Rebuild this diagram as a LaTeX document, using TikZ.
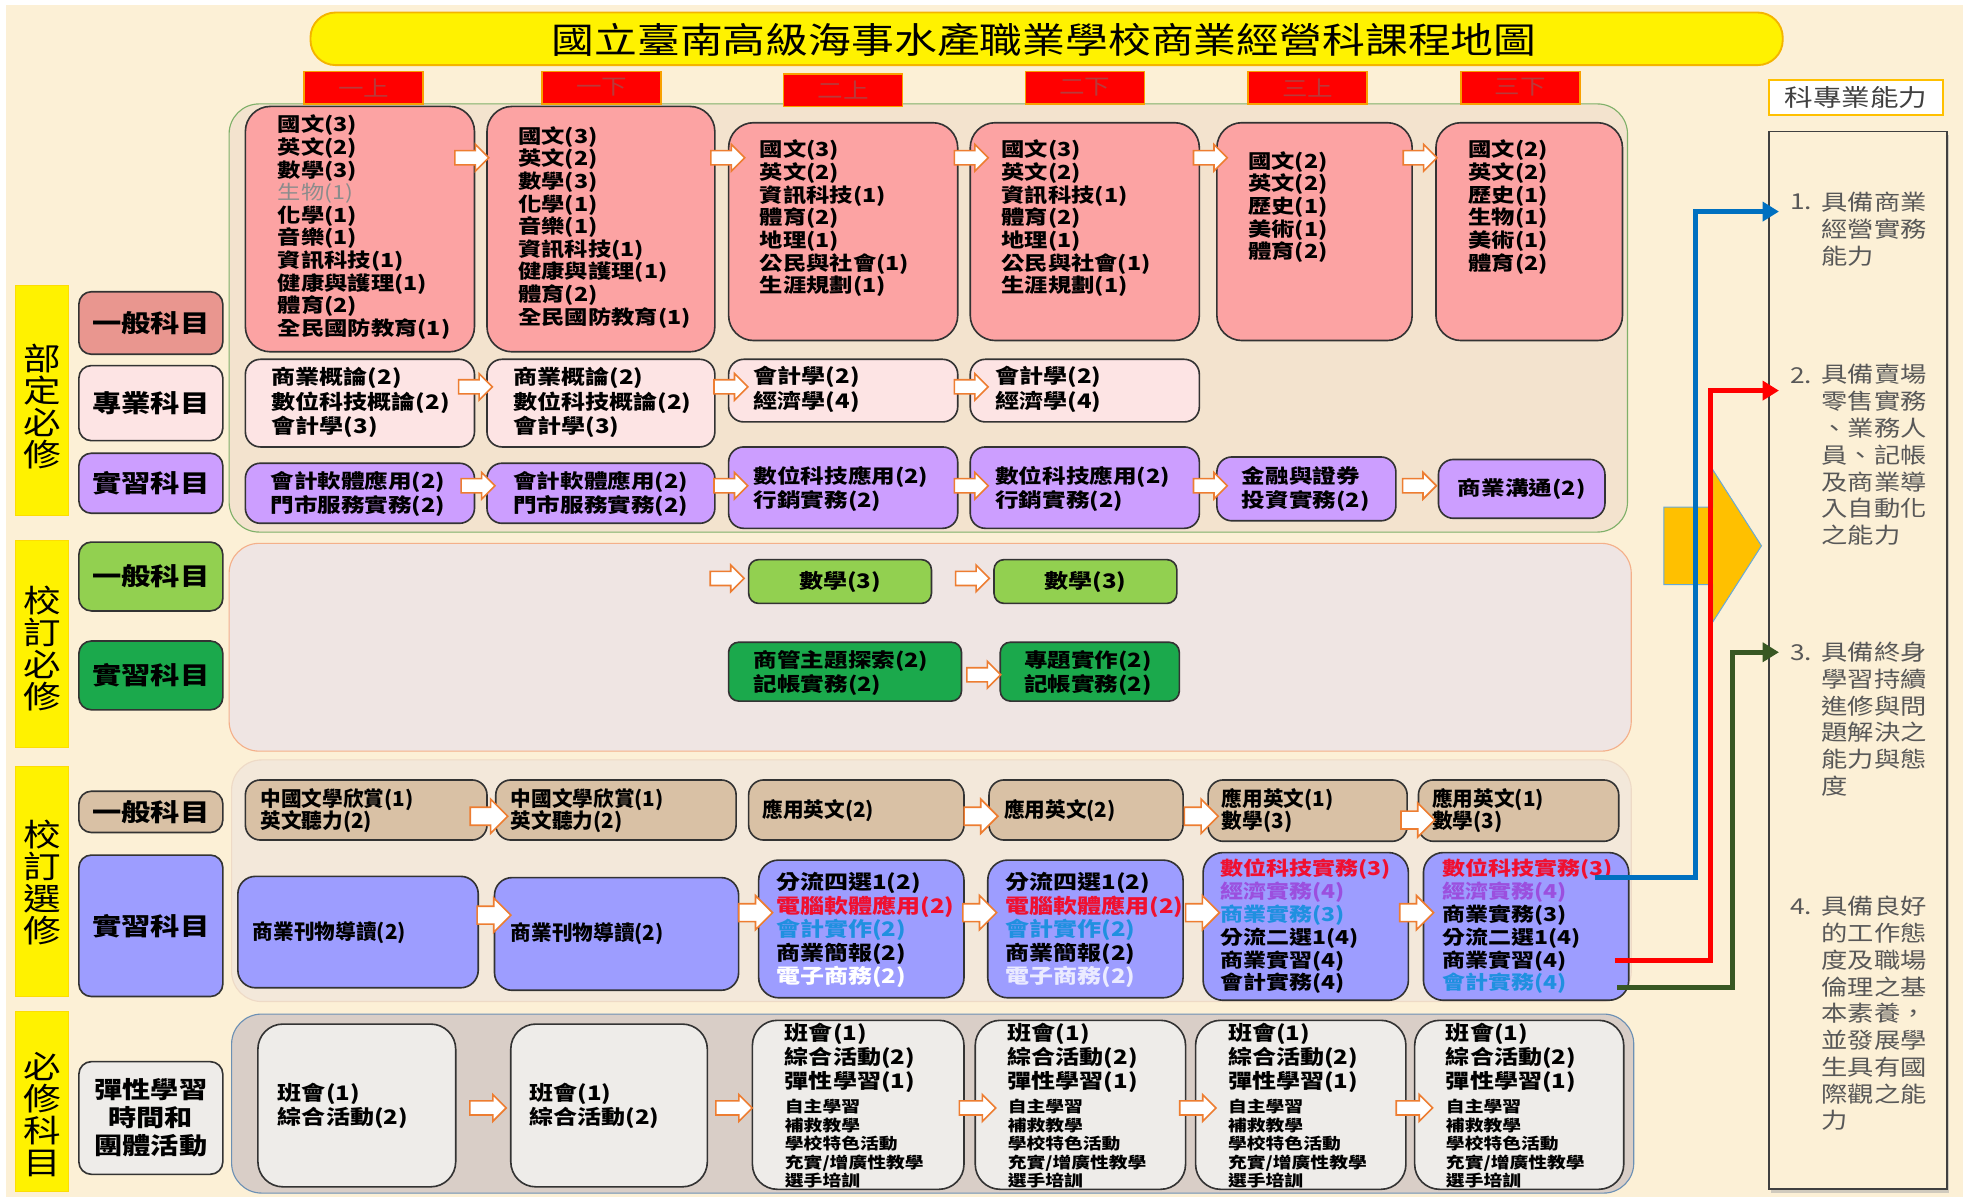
\documentclass[tikz,border=0pt]{standalone}
\usepackage{fontspec}
\setmainfont{Noto Sans CJK TC}[FakeStretch=1.2]
\newfontfamily\narrowfont{Noto Sans CJK TC}
\usepackage{tikz}
\tikzset{
  every node/.style = {
    inner sep = 0pt,
    outer sep = 0pt
  }
}
\usetikzlibrary{
arrows.meta,
fit,
shadows,
shapes.arrows
}
\definecolor{bgcream}{HTML}{FCF0D6}
\definecolor{titlegold}{HTML}{F4B400}
\definecolor{tabred}{HTML}{FF0000}
\definecolor{tabedge}{HTML}{F8A000}
\definecolor{tabtext}{HTML}{B83A3A}
\definecolor{panelA}{HTML}{F3E3CE}
\definecolor{panelAedge}{HTML}{7FB069}
\definecolor{panelB}{HTML}{EFE5E3}
\definecolor{panelBedge}{HTML}{F4B08A}
\definecolor{panelC}{HTML}{F3E8DA}
\definecolor{panelCedge}{HTML}{EEDAC6}
\definecolor{panelD}{HTML}{D9CEC7}
\definecolor{panelDedge}{HTML}{6C90B4}
\definecolor{genpink}{HTML}{FCA3A3}
\definecolor{genpinkcat}{HTML}{E9968F}
\definecolor{propink}{HTML}{FDE4E4}
\definecolor{pracviolet}{HTML}{CC9EFF}
\definecolor{lightgreen}{HTML}{92D050}
\definecolor{darkgreen}{HTML}{1BA94C}
\definecolor{cardtan}{HTML}{D9C1A5}
\definecolor{peri}{HTML}{9D9DFF}
\definecolor{paleg}{HTML}{EEECE9}
\definecolor{arrowedge}{HTML}{ED7D31}
\definecolor{gold}{HTML}{FFC000}
\definecolor{linkblue}{HTML}{0070C0}
\definecolor{linkgreen}{HTML}{385723}
\definecolor{txtred}{HTML}{F01030}
\definecolor{txtpurple}{HTML}{9B4FDE}
\definecolor{txtblue}{HTML}{2090E0}
\definecolor{abilgray}{HTML}{585858}

\begin{document}
\begin{tikzpicture}[
        x = 1pt,
        y = -1pt,
        panel/.style={
          rounded corners = 24pt,
          line width = 0.9pt,
        },
        card/.style={
          draw = black!80,
          line width = 1.3pt,
          rounded corners = 12pt,
        },
        bigcard/.style={
          card,
          rounded corners = 20pt,
          fill = genpink,
        },
        catbox/.style={
          card,
          rounded corners = 10pt,
          minimum width = 115pt,
          align = center,
          font = \bfseries\fontsize{19.5}{22.5}\selectfont,
        },
        sidebox/.style={
          fill = yellow,
          draw = yellow!80!orange,
          line width = 0.6pt,
        },
        sidetxt/.style={
          align = center,
          font = \fontsize{25}{25.5}\selectfont,
        },
        tab/.style={
          fill = tabred,
          draw = tabedge,
          line width = 1.2pt,
          minimum width = 95pt,
          minimum height = 26pt,
          text = tabtext,
          font = \fontsize{17}{18}\selectfont,
        },
        blk/.style={
          single arrow,
          draw = arrowedge,
          fill = white,
          line width = 1.3pt,
          inner xsep = 0pt,
          inner ysep = 5pt,
          minimum height = 27pt,
          single arrow head extend = 5pt,
        },
        bigblk/.style={
          blk,
          inner ysep = 6.5pt,
          single arrow head extend = 6.5pt,
        },
        ta/.style={anchor = west, align = left, font = \bfseries\fontsize{15.5}{18.1}\selectfont},
        tb/.style={anchor = west, align = left, font = \bfseries\fontsize{16}{19.5}\selectfont},
        tc/.style={anchor = west, align = left, font = \bfseries\fontsize{15.7}{19}\selectfont},
        tn/.style={anchor = west, align = left, font = \narrowfont\bfseries\fontsize{16.5}{18}\selectfont},
        tg/.style={anchor = west, align = left, font = \bfseries\fontsize{16}{18.8}\selectfont},
        th/.style={anchor = west, align = left, font = \bfseries\fontsize{15.3}{18.2}\selectfont},
        ts/.style={anchor = west, align = left, font = \bfseries\fontsize{12.5}{14.75}\selectfont},
        abil/.style={anchor = west, align = left, text = abilgray, font = \fontsize{17.5}{21.4}\selectfont},
        link/.style={line width = 4pt, -{Triangle[length=13pt, width=15pt]}},
        ]
        \useasboundingbox (0,0) rectangle (1568,956);
        \fill[white] (0,0) rectangle (1568,956);
        \fill[bgcream] (5,4) rectangle (1568,956);

        % title and semesters
        \node[fit={(248,10) (1424,52)}, fill=yellow, draw=titlegold, line width=1.5pt, rounded corners=20pt] (title) {};
        \node[font=\fontsize{28.5}{30}\selectfont] (titlet) at (834,32) {國立臺南高級海事水產職業學校商業經營科課程地圖};

        % group panels
        \node[fit={(183,83) (1300,425)}, panel, fill=panelA, draw=panelAedge] (bd) {};
        \node[fit={(183,434) (1303,600)}, panel, fill=panelB, draw=panelBedge] (xb) {};
        \node[fit={(185,607) (1303,800)}, panel, fill=panelC, draw=panelCedge] (xx) {};
        \node[fit={(185,810) (1305,953)}, panel, fill=panelD, draw=panelDedge] (bx) {};

        \node[tab] (s1) at (290.5,70) {一上};
        \node[tab] (s2) at (480.5,70) {一下};
        \node[tab] (s3) at (673.5,72) {二上};
        \node[tab] (s4) at (866.5,70) {二下};
        \node[tab] (s5) at (1044.5,70) {三上};
        \node[tab] (s6) at (1214.5,70) {三下};

        % left labels
        \node[fit={(12,228) (55,412)}, sidebox] (sl1) {};
        \node[sidetxt] (sl1t) at (33.5,325) {部\\定\\必\\修};
        \node[fit={(12,432) (55,597)}, sidebox] (sl2) {};
        \node[sidetxt] (sl2t) at (33.5,518) {校\\訂\\必\\修};
        \node[fit={(12,612) (55,796)}, sidebox] (sl3) {};
        \node[sidetxt] (sl3t) at (33.5,705) {校\\訂\\選\\修};
        \node[fit={(12,808) (55,952)}, sidebox] (sl4) {};
        \node[sidetxt] (sl4t) at (33.5,890) {必\\修\\科\\目};

        \node[catbox, fill=genpinkcat, minimum height=50pt] (k1) at (120.5,258) {一般科目};
        \node[catbox, fill=propink, minimum height=60pt] (k2) at (120.5,322) {專業科目};
        \node[catbox, fill=pracviolet, minimum height=48pt] (k3) at (120.5,386) {實習科目};
        \node[catbox, fill=lightgreen, minimum height=55pt] (k4) at (120.5,460.5) {一般科目};
        \node[catbox, fill=darkgreen, minimum height=55pt] (k5) at (120.5,539.5) {實習科目};
        \node[catbox, fill=cardtan, minimum height=33pt] (k6) at (120.5,648.5) {一般科目};
        \node[catbox, fill=peri, minimum height=113pt] (k7) at (120.5,739.5) {實習科目};
        \node[catbox, fill=paleg, minimum height=90pt, font=\bfseries\fontsize{18.75}{22.5}\selectfont] (k8) at (120.5,893) {彈性學習\\時間和\\團體活動};

        % 部定必修
        \node[fit={(196,85) (379,281)}, bigcard] (p1) {};
        \node[fit={(389,85) (571,281)}, bigcard] (p2) {};
        \node[fit={(582,98) (765,272)}, bigcard] (p3) {};
        \node[fit={(775,98) (958,272)}, bigcard] (p4) {};
        \node[fit={(972,98) (1128,272)}, bigcard] (p5) {};
        \node[fit={(1147,98) (1296,272)}, bigcard] (p6) {};
        \node[ta] (p1t) at (222,181.5) {國文(3)\\英文(2)\\數學(3)\\\textcolor{black!45}{\mdseries 生物(1)}\\化學(1)\\音樂(1)\\資訊科技(1)\\健康與護理(1)\\體育(2)\\全民國防教育(1)};
        \node[ta] (p2t) at (414,181.5) {國文(3)\\英文(2)\\數學(3)\\化學(1)\\音樂(1)\\資訊科技(1)\\健康與護理(1)\\體育(2)\\全民國防教育(1)};
        \node[ta] (p3t) at (607,174.5) {國文(3)\\英文(2)\\資訊科技(1)\\體育(2)\\地理(1)\\公民與社會(1)\\生涯規劃(1)};
        \node[ta] (p4t) at (800,174.5) {國文(3)\\英文(2)\\資訊科技(1)\\體育(2)\\地理(1)\\公民與社會(1)\\生涯規劃(1)};
        \node[ta] (p5t) at (997,165.5) {國文(2)\\英文(2)\\歷史(1)\\美術(1)\\體育(2)};
        \node[ta] (p6t) at (1173,165.5) {國文(2)\\英文(2)\\歷史(1)\\生物(1)\\美術(1)\\體育(2)};

        \node[fit={(196,287) (379,357)}, card, fill=propink] (q1) {};
        \node[fit={(389,287) (571,357)}, card, fill=propink] (q2) {};
        \node[fit={(582,287) (765,337)}, card, fill=propink] (q3) {};
        \node[fit={(775,287) (958,337)}, card, fill=propink] (q4) {};
        \node[tb] (q1t) at (217,321.5) {商業概論(2)\\數位科技概論(2)\\會計學(3)};
        \node[tb] (q2t) at (410,321.5) {商業概論(2)\\數位科技概論(2)\\會計學(3)};
        \node[tb] (q3t) at (602,311) {會計學(2)\\經濟學(4)};
        \node[tb] (q4t) at (795,311) {會計學(2)\\經濟學(4)};

        \node[fit={(196,370) (379,418)}, card, fill=pracviolet] (r1) {};
        \node[fit={(389,370) (571,418)}, card, fill=pracviolet] (r2) {};
        \node[fit={(582,357) (765,422)}, card, fill=pracviolet] (r3) {};
        \node[fit={(775,357) (958,422)}, card, fill=pracviolet] (r4) {};
        \node[fit={(972,365) (1115,416)}, card, fill=pracviolet] (r5) {};
        \node[fit={(1149,367) (1282,414)}, card, fill=pracviolet] (r6) {};
        \node[tc] (r1t) at (216,394.5) {會計軟體應用(2)\\門市服務實務(2)};
        \node[tc] (r2t) at (410,394.5) {會計軟體應用(2)\\門市服務實務(2)};
        \node[tc] (r3t) at (602,390.5) {數位科技應用(2)\\行銷實務(2)};
        \node[tc] (r4t) at (795,390.5) {數位科技應用(2)\\行銷實務(2)};
        \node[tc] (r5t) at (992,390.5) {金融與證券\\投資實務(2)};
        \node[tc, anchor=center] (r6t) at (r6.center) {商業溝通(2)};

        \node[blk] (pa1) at (374,126) {};
        \node[blk] (pa2) at (578.5,126) {};
        \node[blk] (pa3) at (773,126) {};
        \node[blk] (pa4) at (964,126) {};
        \node[blk] (pa5) at (1131.5,126) {};
        \node[blk] (qa1) at (377,309) {};
        \node[blk] (qa2) at (581,309) {};
        \node[blk] (qa3) at (773,309) {};
        \node[blk] (ra1) at (379,388) {};
        \node[blk] (ra2) at (581,388) {};
        \node[blk] (ra3) at (773,388) {};
        \node[blk] (ra4) at (964,388) {};
        \node[blk] (ra5) at (1131,388) {};

        % 校訂必修
        \node[fit={(598,447) (744,482)}, card, fill=lightgreen, rounded corners=8pt] (d1) {};
        \node[fit={(794,447) (940,482)}, card, fill=lightgreen, rounded corners=8pt] (d2) {};
        \node[tb, anchor=center] (d1t) at (d1.center) {數學(3)};
        \node[tb, anchor=center] (d2t) at (d2.center) {數學(3)};
        \node[fit={(582,513) (768,560)}, card, fill=darkgreen, rounded corners=8pt] (e1) {};
        \node[fit={(799,513) (942,560)}, card, fill=darkgreen, rounded corners=8pt] (e2) {};
        \node[tc] (e1t) at (602,537.5) {商管主題探索(2)\\記帳實務(2)};
        \node[tc] (e2t) at (818,537.5) {專題實作(2)\\記帳實務(2)};
        \node[blk] (da1) at (578,462) {};
        \node[blk] (da2) at (774,462) {};
        \node[blk] (ea1) at (783,539) {};

        % 校訂選修
        \node[fit={(196,623) (389,671)}, card, fill=cardtan] (f1) {};
        \node[fit={(396,623) (588,671)}, card, fill=cardtan] (f2) {};
        \node[fit={(598,623) (770,671)}, card, fill=cardtan] (f3) {};
        \node[fit={(790,623) (945,671)}, card, fill=cardtan] (f4) {};
        \node[fit={(965,623) (1124,672)}, card, fill=cardtan] (f5) {};
        \node[fit={(1133,623) (1293,672)}, card, fill=cardtan] (f6) {};
        \node[tn] (f1t) at (208,647.5) {中國文學欣賞(1)\\英文聽力(2)};
        \node[tn] (f2t) at (408,647.5) {中國文學欣賞(1)\\英文聽力(2)};
        \node[tn] (f3t) at (609,647.5) {應用英文(2)};
        \node[tn] (f4t) at (802,647.5) {應用英文(2)};
        \node[tn] (f5t) at (976,647.5) {應用英文(1)\\數學(3)};
        \node[tn] (f6t) at (1144,647.5) {應用英文(1)\\數學(3)};
        \node[bigblk, minimum height=30pt] (fa1) at (387,652) {};
        \node[bigblk] (fa2) at (780,652) {};
        \node[bigblk] (fa3) at (956,652) {};
        \node[bigblk] (fa4) at (1129,655) {};

        \node[fit={(190,700) (382,789)}, card, fill=peri, rounded corners=14pt] (g1) {};
        \node[fit={(395,701) (590,791)}, card, fill=peri, rounded corners=14pt] (g2) {};
        \node[fit={(606,687) (770,797)}, card, fill=peri, rounded corners=16pt] (g3) {};
        \node[fit={(789,687) (945,797)}, card, fill=peri, rounded corners=16pt] (g4) {};
        \node[fit={(961,681) (1125,799)}, card, fill=peri, rounded corners=16pt] (g5) {};
        \node[fit={(1137,681) (1301,799)}, card, fill=peri, rounded corners=16pt] (g6) {};
        \node[tn] (g1t) at (202,745) {商業刊物導讀(2)};
        \node[tn] (g2t) at (408,746) {商業刊物導讀(2)};
        \node[tg] (g3t) at (620,743) {分流四選1(2)\\\textcolor{txtred}{電腦軟體應用(2)}\\\textcolor{txtblue}{會計實作(2)}\\商業簡報(2)\\\textcolor{white}{電子商務(2)}};
        \node[tg] (g4t) at (803,743) {分流四選1(2)\\\textcolor{txtred}{電腦軟體應用(2)}\\\textcolor{txtblue}{會計實作(2)}\\商業簡報(2)\\\textcolor{white!80!peri}{電子商務(2)}};
        \node[th] (g5t) at (975,740) {\textcolor{txtred}{數位科技實務(3)}\\\textcolor{txtpurple}{經濟實務(4)}\\\textcolor{txtblue}{商業實務(3)}\\分流二選1(4)\\商業實習(4)\\會計實務(4)};
        \node[th] (g6t) at (1152,740) {\textcolor{txtred}{數位科技實務(3)}\\\textcolor{txtpurple}{經濟實務(4)}\\商業實務(3)\\分流二選1(4)\\商業實習(4)\\\textcolor{txtblue}{會計實務(4)}};
        \node[bigblk] (ga1) at (391,731) {};
        \node[bigblk] (ga2) at (600,729) {};
        \node[bigblk] (ga3) at (779,729) {};
        \node[bigblk] (ga4) at (957,729) {};
        \node[bigblk] (ga5) at (1128,729) {};

        % 必修科目
        \node[fit={(206,818) (364,948)}, card, fill=paleg, rounded corners=20pt] (h1) {};
        \node[fit={(408,818) (565,948)}, card, fill=paleg, rounded corners=20pt] (h2) {};
        \node[fit={(601,815) (770,950)}, card, fill=paleg, rounded corners=20pt] (h3) {};
        \node[fit={(779,815) (947,950)}, card, fill=paleg, rounded corners=20pt] (h4) {};
        \node[fit={(955,815) (1123,950)}, card, fill=paleg, rounded corners=20pt] (h5) {};
        \node[fit={(1130,815) (1297,950)}, card, fill=paleg, rounded corners=20pt] (h6) {};
        \node[tb] (h1t) at (222,883.5) {班會(1)\\綜合活動(2)};
        \node[tb] (h2t) at (423,883.5) {班會(1)\\綜合活動(2)};
        \node[tb, font=\bfseries\fontsize{16}{19}\selectfont] (h3t) at (627,845) {班會(1)\\綜合活動(2)\\彈性學習(1)};
        \node[ts] (h3s) at (627,913.5) {自主學習\\補救教學\\學校特色活動\\充實/增廣性教學\\選手培訓};
        \node[tb, font=\bfseries\fontsize{16}{19}\selectfont] (h4t) at (805,845) {班會(1)\\綜合活動(2)\\彈性學習(1)};
        \node[ts] (h4s) at (805,913.5) {自主學習\\補救教學\\學校特色活動\\充實/增廣性教學\\選手培訓};
        \node[tb, font=\bfseries\fontsize{16}{19}\selectfont] (h5t) at (981,845) {班會(1)\\綜合活動(2)\\彈性學習(1)};
        \node[ts] (h5s) at (981,913.5) {自主學習\\補救教學\\學校特色活動\\充實/增廣性教學\\選手培訓};
        \node[tb, font=\bfseries\fontsize{16}{19}\selectfont] (h6t) at (1155,845) {班會(1)\\綜合活動(2)\\彈性學習(1)};
        \node[ts] (h6s) at (1155,913.5) {自主學習\\補救教學\\學校特色活動\\充實/增廣性教學\\選手培訓};
        \node[blk, minimum height=29pt] (ha1) at (387,885) {};
        \node[blk, minimum height=29pt] (ha2) at (583.5,885) {};
        \node[blk, minimum height=29pt] (ha3) at (778,885) {};
        \node[blk, minimum height=29pt] (ha4) at (954,885) {};
        \node[blk, minimum height=29pt] (ha5) at (1127,885) {};

        % abilities
        \node[fit={(1413,64) (1552,92)}, fill=white, draw=gold, line width=2pt] (hdr) {};
        \node[font=\fontsize{19}{20}\selectfont, text=black!75] (hdrt) at (hdr.center) {科專業能力};
        \node[fit={(1413,105) (1555,950)}, fill=bgcream, draw=black!75, line width=1.4pt,
          drop shadow={shadow xshift=2pt, shadow yshift=-3pt, fill=black!35}] (rbox) {};
        \node[abil] (n1) at (1430,161) {1.};
        \node[abil] (a1) at (1455,183) {具備商業\\經營實務\\能力};
        \node[abil] (n2) at (1430,300) {2.};
        \node[abil] (a2) at (1455,363.5) {具備賣場\\零售實務\\、業務人\\員、記帳\\及商業導\\入自動化\\之能力};
        \node[abil] (n3) at (1430,521) {3.};
        \node[abil] (a3) at (1455,574.5) {具備終身\\學習持續\\進修與問\\題解決之\\能力與態\\度};
        \node[abil] (n4) at (1430,724) {4.};
        \node[abil] (a4) at (1455,809.5) {具備良好\\的工作態\\度及職場\\倫理之基\\本素養，\\並發展學\\生具有國\\際觀之能\\力};

        \draw[fill=gold, draw=linkblue!60, line width=0.8pt]
        (1329,405) -- (1368,405) -- (1368,375) -- (1407,436) -- (1368,497) -- (1368,467) -- (1329,467) -- cycle;

        \coordinate (bS) at (1274,701);
        \coordinate (bE) at (1421,169);
        \coordinate (rS) at (1290,767);
        \coordinate (rE) at (1421,312);
        \coordinate (gS) at (1292,789);
        \coordinate (gE) at (1421,521);
        \draw[link, linkblue] (bS) -| (1354,169) -- (bE);
        \draw[link, red] (rS) -| (1366,312) -- (rE);
        \draw[link, linkgreen] (gS) -| (1384,521) -- (gE);
      \end{tikzpicture}
\end{document}
